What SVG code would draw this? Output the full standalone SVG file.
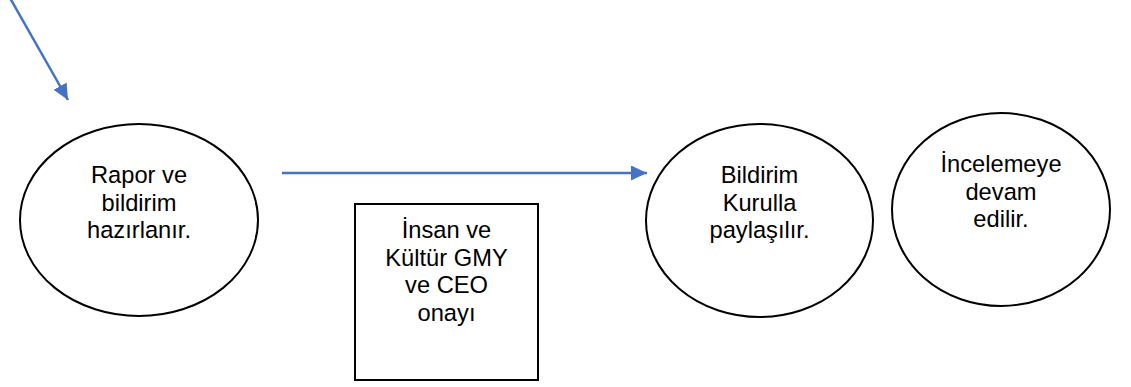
<svg xmlns="http://www.w3.org/2000/svg" width="1131" height="387" viewBox="0 0 1131 387">
<defs>
<style>
.node{fill:#fff;stroke:#000;stroke-width:2}
.lbl{font-family:"Liberation Sans",Arial,sans-serif;font-size:23.7px;fill:#000;text-anchor:middle}
.conn{stroke:#4472C4;stroke-width:2.5;fill:none}
</style>
<marker id="ah" markerUnits="userSpaceOnUse" markerWidth="17" markerHeight="16" refX="16" refY="7.5" orient="auto">
<path d="M0,0 L16,7.5 L0,15 z" fill="#4472C4"/>
</marker>
</defs>
<rect width="1131" height="387" fill="#fff"/>
<g id="connectors">
<line class="conn" x1="10" y1="-2" x2="68" y2="100" marker-end="url(#ah)"/>
<line class="conn" x1="282" y1="173" x2="647" y2="173" marker-end="url(#ah)"/>
</g>
<g id="rapor">
<ellipse class="node" cx="139" cy="220" rx="119" ry="96"/>
<text class="lbl" x="139" y="183">Rapor ve</text>
<text class="lbl" x="139" y="210.5">bildirim</text>
<text class="lbl" x="139" y="238">hazırlanır.</text>
</g>
<g id="onay">
<rect class="node" x="355" y="204" width="183" height="176"/>
<text class="lbl" x="446.5" y="238">İnsan ve</text>
<text class="lbl" x="446.5" y="265.5">Kültür GMY</text>
<text class="lbl" x="446.5" y="293">ve CEO</text>
<text class="lbl" x="446.5" y="320.5">onayı</text>
</g>
<g id="kurul">
<ellipse class="node" cx="759.5" cy="220.5" rx="113.5" ry="96.5"/>
<text class="lbl" x="759.5" y="183">Bildirim</text>
<text class="lbl" x="759.5" y="210.5">Kurulla</text>
<text class="lbl" x="759.5" y="238">paylaşılır.</text>
</g>
<g id="inceleme">
<ellipse class="node" cx="1001" cy="209.5" rx="109" ry="96.5"/>
<text class="lbl" x="1001" y="172">İncelemeye</text>
<text class="lbl" x="1001" y="199.5">devam</text>
<text class="lbl" x="1001" y="227">edilir.</text>
</g>
</svg>
